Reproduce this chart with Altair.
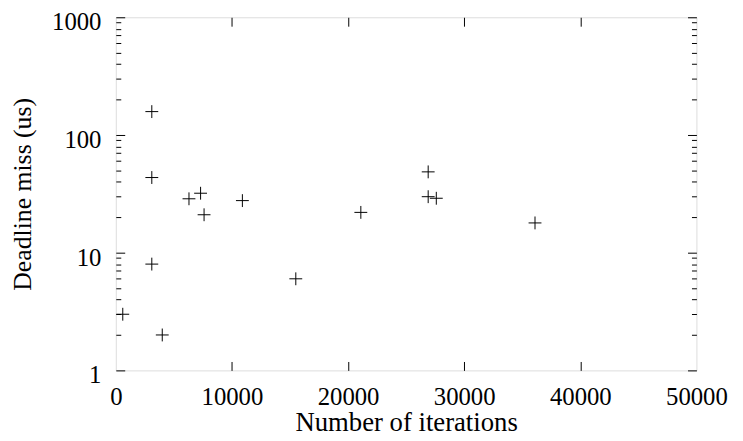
import altair as alt
import pandas as pd

# Data
iterations = [600, 3100, 3100, 3100, 4000, 6300, 7300, 7600, 10900, 15500, 21100, 26900, 26900, 27600, 36100]
deadline_miss = [3.0, 158, 43.5, 8.0, 2.0, 28.7, 32.0, 21.0, 27.7, 6.0, 22.0, 48.6, 29.9, 29.0, 17.9]

x_ticks = [0, 10000, 20000, 30000, 40000, 50000]
x_inner_ticks = [10000, 20000, 30000, 40000]
y_ticks = [1, 10, 100, 1000]
y_minor = [2, 3, 4, 5, 6, 7, 8, 9, 20, 30, 40, 50, 60, 70, 80, 90, 200, 300, 400, 500, 600, 700, 800, 900]

df = pd.DataFrame({"x": iterations, "y": deadline_miss})

W, H = 587, 357
FONT = "Liberation Serif, Times New Roman, serif"
LFS = 25

xscale = alt.Scale(domain=[0, 50000], nice=False, zero=False)
yscale = alt.Scale(type="log", domain=[1, 1000], nice=False)

base = alt.Chart(df)

cross = "M-1,0H1M0,-1V1"

points = base.mark_point(shape=cross, size=169, filled=False, stroke="black",
                         strokeWidth=1, opacity=1).encode(
    x=alt.X("x:Q", scale=xscale, title="Number of iterations",
            axis=alt.Axis(values=x_ticks, format="d", tickSize=0, domain=False, grid=False,
                          labelFlush=False, labelOverlap=False,
                          labelFont=FONT, labelFontSize=LFS, labelColor="black",
                          labelBaseline="alphabetic", labelPadding=34,
                          titleFont=FONT, titleFontSize=27, titleFontWeight="normal",
                          titleColor="black", titleBaseline="alphabetic",
                          titleX=W / 2, titleY=61)),
    y=alt.Y("y:Q", scale=yscale, title="Deadline miss (us)",
            axis=alt.Axis(values=y_ticks, format="d", tickSize=0, domain=False, grid=False,
                          labelFlush=False, labelOverlap=False,
                          labelFont=FONT, labelFontSize=LFS, labelColor="black",
                          labelBaseline="alphabetic", labelOffset=12.5, labelPadding=15,
                          titleFont=FONT, titleFontSize=26, titleFontWeight="normal",
                          titleColor="black", titleBaseline="alphabetic",
                          titleX=-86, titleY=H / 2)),
)

def tick_layer(x_axis, y_axis):
    return base.mark_point(opacity=0).encode(
        x=alt.X("x:Q", scale=xscale, title="", axis=x_axis),
        y=alt.Y("y:Q", scale=yscale, title="", axis=y_axis),
    )

common = dict(labels=False, domain=False, grid=False, tickColor="black", tickWidth=1)

l1 = tick_layer(alt.Axis(orient="top", offset=-H, values=x_inner_ticks, tickSize=9, **common),
                alt.Axis(orient="right", offset=-W, values=y_ticks, tickSize=9, **common))
l2 = tick_layer(alt.Axis(orient="bottom", offset=-H, values=x_inner_ticks, tickSize=9, **common),
                alt.Axis(orient="left", offset=-W, values=y_ticks, tickSize=9, **common))
l3 = tick_layer(None, alt.Axis(orient="right", offset=-W, values=y_minor, tickSize=5, **common))
l4 = tick_layer(None, alt.Axis(orient="left", offset=-W, values=y_minor, tickSize=5, **common))

chart = alt.layer(points, l1, l2, l3, l4).resolve_axis(
    x="independent", y="independent"
).properties(
    width=W, height=H,
    autosize=alt.AutoSizeParams(type="none"),
    padding={"left": 109, "top": 7, "right": 39, "bottom": 69},
).configure_view(stroke="black", strokeWidth=1.5).configure(background="white")

chart.save("out.html", embed_options={"renderer": "svg", "actions": False})
